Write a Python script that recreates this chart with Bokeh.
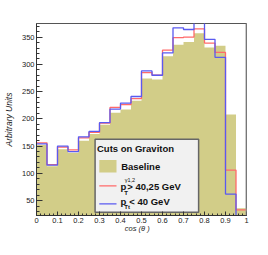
import numpy as np
from bokeh.plotting import figure
from bokeh.models import (SingleIntervalTicker, FixedTicker, Range1d, Label,
                          Span, LinearAxis)
from bokeh.embed import file_html
from bokeh.resources import INLINE

# ---- data -------------------------------------------------------------
bin_edges = [0.0, 0.05, 0.1, 0.15, 0.2, 0.25, 0.3, 0.35, 0.4, 0.45, 0.5,
             0.55, 0.6, 0.65, 0.7, 0.75, 0.8, 0.85, 0.9, 0.95, 1.0]
baseline = [152, 113, 144, 138, 160, 172, 189, 211, 217, 233,
            274, 272, 315, 336, 341, 357, 331, 334, 208, 36]
cut_pt_photons = [156, 116, 148, 143, 165, 175, 192, 221, 226, 237,
                  285, 280, 326, 349, 350, 365, 339, 322, 106, 33]
cut_pt_tt = [154, 115, 150, 140, 167, 177, 193, 218, 229, 241,
             288, 280, 321, 367, 364, 380, 346, 313, 62, 21]
x_ticks_labels = {0: "0", 1: "1"}

x_title = "cos (θ )"
y_title = "Arbitrary Units"
legend_title = "Cuts on Graviton"
label_baseline = "Baseline"

FONT = "Liberation Sans"
OLIVE = "#d2cd88"
RED = "#ff6a6a"
BLUE = "#5a5af0"

p = figure(width=252, height=235, output_backend="svg", toolbar_location=None,
           x_range=Range1d(0, 1), y_range=Range1d(22.6, 375),
           min_border_left=31, min_border_right=6, min_border_top=23,
           min_border_bottom=0)
p.background_fill_color = "white"
p.border_fill_color = "white"
p.outline_line_color = "#555555"
p.outline_line_width = 1
p.xgrid.visible = False
p.ygrid.visible = False

edges = np.array(bin_edges)
# baseline filled histogram (single step area, no seams)
p.varea_step(x=edges, y1=np.zeros(len(edges)), y2=baseline + [baseline[-1]],
             step_mode="after", fill_color=OLIVE)

# outline histograms
p.step(x=edges, y=cut_pt_photons + [cut_pt_photons[-1]], mode="after",
       line_color=RED, line_width=1.3)
p.step(x=edges, y=cut_pt_tt + [cut_pt_tt[-1]], mode="after",
       line_color=BLUE, line_width=1.3)

p.add_layout(Span(location=1.0, dimension="height", line_color="#9a9a9a",
                  line_width=2))

# axes
xa = p.xaxis[0]
xa.ticker = SingleIntervalTicker(interval=0.1, num_minor_ticks=5)
xa.major_label_overrides = x_ticks_labels
ya = p.yaxis[0]
ya.ticker = SingleIntervalTicker(interval=50, num_minor_ticks=5)
ya.axis_label = y_title
for ax in (xa, ya):
    ax.major_label_text_font = FONT
    ax.major_label_text_font_size = "7.5px"
    ax.major_label_text_color = "#222222"
    ax.axis_label_text_font = FONT
    ax.axis_label_text_font_style = "italic"
    ax.axis_label_text_color = "#222222"
    ax.axis_line_color = "#333333"
    ax.major_tick_line_color = "#333333"
    ax.minor_tick_line_color = "#333333"
    ax.major_tick_out = 0
    ax.minor_tick_out = 0
    ax.major_label_standoff = 2
xa.major_tick_in = 4
xa.minor_tick_in = 2
ya.major_tick_in = 6
ya.minor_tick_in = 3
ya.axis_label_text_font_size = "8.5px"
ya.axis_label_standoff = 5

# x-axis title: a tick-less second axis carrying one label
title_axis = LinearAxis(ticker=FixedTicker(ticks=[0.48], minor_ticks=[]),
                        major_label_overrides={0.48: x_title},
                        axis_line_color=None, major_tick_line_color=None,
                        minor_tick_line_color=None, major_tick_out=0,
                        major_tick_in=0, minor_tick_out=0, minor_tick_in=0,
                        major_label_standoff=-2,
                        major_label_text_font=FONT,
                        major_label_text_font_size="7.5px",
                        major_label_text_font_style="italic",
                        major_label_text_color="#222222")
p.add_layout(title_axis, "below")

# legend (drawn manually to allow sub/superscripts)
p.quad(left=[0.279], right=[0.772], top=[162.7], bottom=[28.5],
       fill_color="#f1f1f1", line_color="#666666", line_width=1.5)
p.quad(left=[0.299], right=[0.381], top=[124.6], bottom=[101.3],
       fill_color=OLIVE, line_color=None)
p.line(x=[0.299, 0.381], y=[77.1, 77.1], line_color=RED, line_width=1.3)
p.line(x=[0.299, 0.381], y=[44.0, 44.0], line_color=BLUE, line_width=1.3)


def lab(x, y, text, size, style="bold"):
    p.add_layout(Label(x=x, y=y, text=text, text_font=FONT,
                       text_font_size=size, text_font_style=style,
                       text_color="#111111", text_align="left",
                       text_baseline="middle"))


lab(0.288, 145.4, legend_title, "9.5px")
lab(0.403, 111.7, label_baseline, "9.5px")
lab(0.400, 75.7, "p", "9.5px")
lab(0.418, 64.4, "T", "6px")
lab(0.420, 87.5, "γ1,2", "5.5px", "normal")
lab(0.432, 75.7, "> 40,25 GeV", "9.5px")
lab(0.400, 48.8, "p", "9.5px")
lab(0.418, 38.4, "Tt", "6px")
lab(0.442, 48.8, "< 40 GeV", "9.5px")

open("out.html", "w").write(file_html(p, INLINE))
